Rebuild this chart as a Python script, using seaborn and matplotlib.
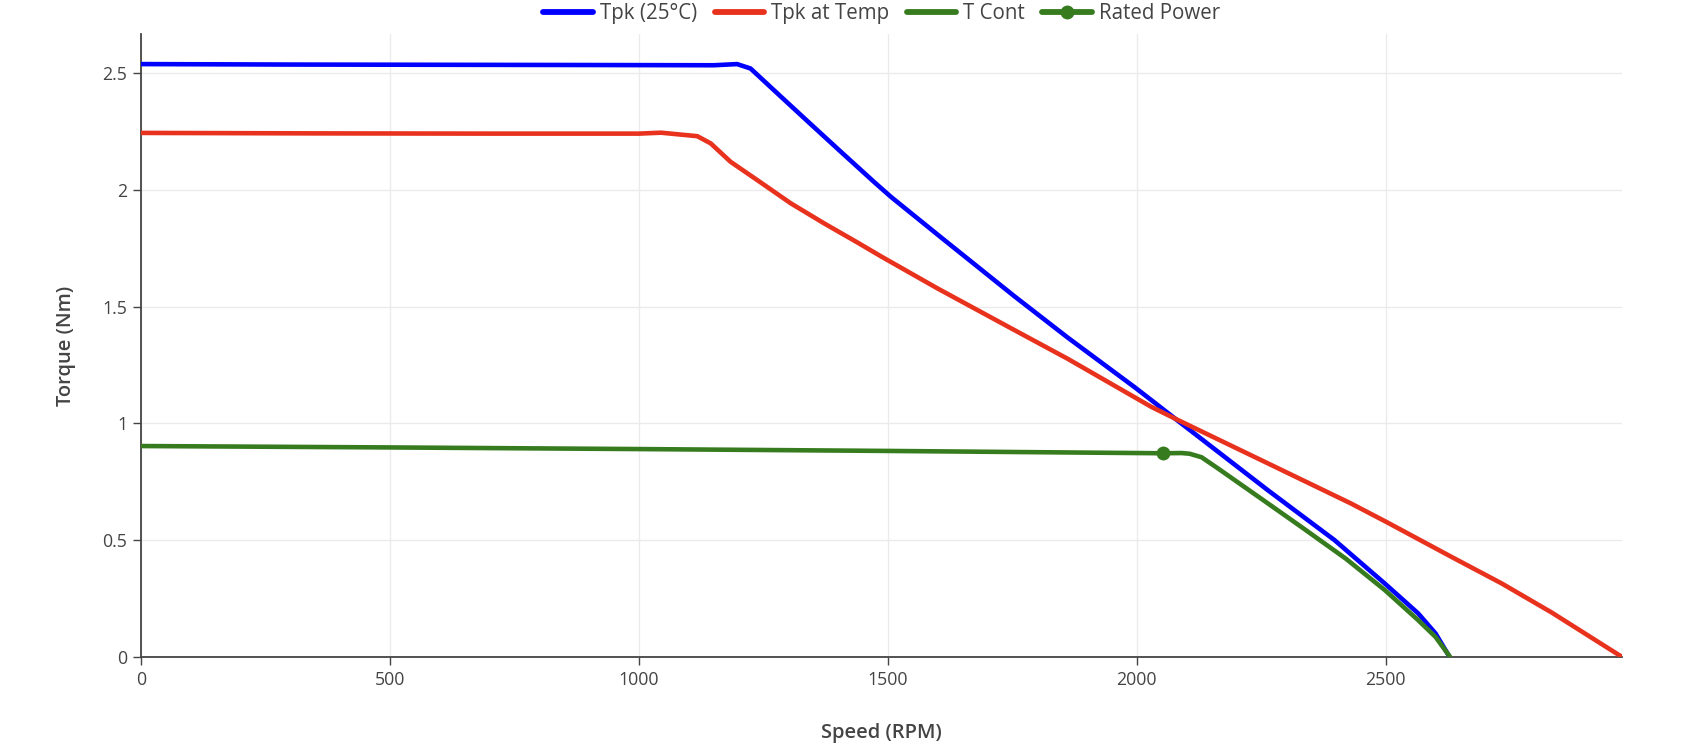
import pandas as pd
import seaborn as sns
import matplotlib.pyplot as plt

# torque/speed curves
tpk25_speed = [0, 300, 600, 900, 1150, 1197, 1224, 1271, 1338, 1405, 1472, 1506,
               1605, 1754, 1861, 1995, 2029, 2082, 2263, 2397, 2498, 2565, 2600, 2628]
tpk25_torque = [2.540, 2.538, 2.537, 2.536, 2.535, 2.540, 2.521, 2.428, 2.296, 2.165,
                2.035, 1.971, 1.800, 1.545, 1.368, 1.156, 1.100, 1.012, 0.714, 0.500,
                0.314, 0.186, 0.100, 0.0]

tpktemp_speed = [0, 350, 700, 1000, 1044, 1117, 1144, 1184, 1238, 1305, 1372, 1439,
                 1486, 1600, 1754, 1861, 2029, 2082, 2263, 2430, 2501, 2632, 2733,
                 2833, 2974]
tpktemp_torque = [2.245, 2.243, 2.242, 2.242, 2.246, 2.231, 2.200, 2.121, 2.042, 1.943,
                  1.857, 1.775, 1.716, 1.578, 1.400, 1.277, 1.071, 1.015, 0.829, 0.657,
                  0.578, 0.428, 0.314, 0.190, 0.0]

tcont_speed = [0, 500, 1000, 1500, 2053, 2090, 2106, 2130, 2163, 2250, 2330, 2420,
               2498, 2565, 2600, 2629]
tcont_torque = [0.903, 0.897, 0.890, 0.882, 0.872, 0.873, 0.870, 0.855, 0.807, 0.677,
                0.557, 0.420, 0.286, 0.157, 0.085, 0.0]

rated_speed = [2053]
rated_torque = [0.872]

y_ticks = [0, 0.5, 1, 1.5, 2, 2.5]
y_ticklabels = ['0', '0.5', '1', '1.5', '2', '2.5']
x_ticks = [0, 500, 1000, 1500, 2000, 2500]


def main():
    sns.set_theme(style='white')
    plt.rcParams['font.family'] = ['Open Sans', 'DejaVu Sans']

    fig = plt.figure(figsize=(16.88, 7.49), dpi=100)
    ax = fig.add_axes([0.0837, 0.1232, 0.961 - 0.0837, 0.954 - 0.1232])

    series = [
        ('Tpk (25°C)', tpk25_speed, tpk25_torque, '#0000FF'),
        ('Tpk at Temp', tpktemp_speed, tpktemp_torque, '#E8321E'),
        ('T Cont', tcont_speed, tcont_torque, '#367C1F'),
    ]
    for name, xs, ys, col in series:
        df = pd.DataFrame({'speed': xs, 'torque': ys})
        sns.lineplot(data=df, x='speed', y='torque', ax=ax, color=col, lw=3.3,
                     sort=False, estimator=None, label=name, zorder=3,
                     solid_joinstyle='round', solid_capstyle='round')

    df = pd.DataFrame({'speed': rated_speed, 'torque': rated_torque})
    sns.lineplot(data=df, x='speed', y='torque', ax=ax, color='#367C1F', lw=3.3,
                 marker='o', markersize=10, markeredgewidth=0, estimator=None,
                 label='Rated Power', zorder=4)

    ax.set_xlim(0, 2975)
    ax.set_ylim(0, 2.667)
    ax.set_xticks(x_ticks)
    ax.set_yticks(y_ticks)
    ax.set_yticklabels(y_ticklabels)
    ax.grid(True, color='#ebebeb', lw=1, zorder=0)
    ax.set_axisbelow(True)

    for side in ['top', 'right']:
        ax.spines[side].set_visible(False)
    for side in ['left', 'bottom']:
        ax.spines[side].set_color('#444444')
        ax.spines[side].set_linewidth(1.3)
    ax.tick_params(axis='both', which='both', direction='out', length=6, width=1,
                   color='#444444', labelcolor='#444444', labelsize=12.8, pad=4,
                   left=True, bottom=True)

    ax.set_xlabel('Speed (RPM)', fontsize=14.5, color='#444444', fontweight='semibold',
                  labelpad=25)
    ax.set_ylabel('Torque (Nm)', fontsize=14.5, color='#444444', fontweight='semibold',
                  labelpad=19)

    leg = ax.legend(loc='center', bbox_to_anchor=(0.5, 1.034), ncol=4, frameon=False,
                    fontsize=14.8, handlelength=2.4, handletextpad=0.35,
                    columnspacing=0.85, borderaxespad=0)
    for t in leg.get_texts():
        t.set_color('#444444')
    for h in leg.legend_handles:
        h.set_linewidth(4.2)

    fig.savefig('out.png', dpi=100)
    plt.close(fig)


if __name__ == '__main__':
    main()
